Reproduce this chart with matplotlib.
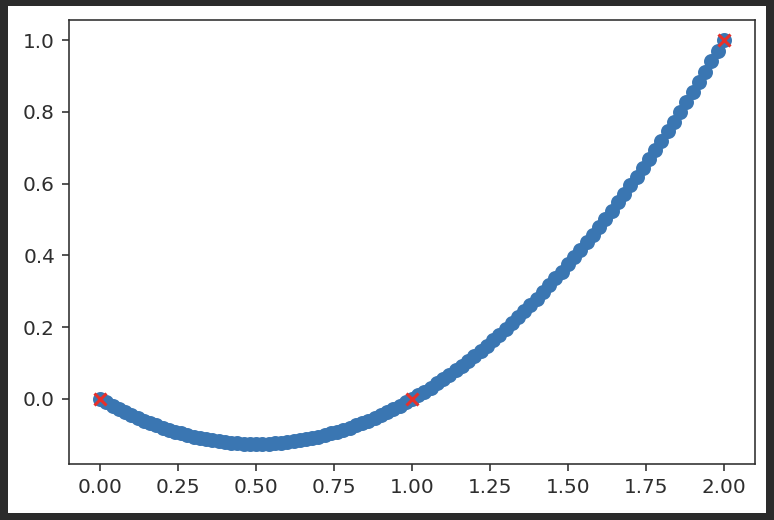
import matplotlib
matplotlib.use('agg')
import matplotlib.pyplot as plt
from matplotlib.patches import Rectangle

# known points (red crosses)
known_x = [0.0, 1.0, 2.0]
known_y = [0.0, 0.0, 1.0]

# curve samples
curve_x = [
    0.00, 0.02, 0.04, 0.06, 0.08, 0.10, 0.12, 0.14, 0.16, 0.18,
    0.20, 0.22, 0.24, 0.26, 0.28, 0.30, 0.32, 0.34, 0.36, 0.38,
    0.40, 0.42, 0.44, 0.46, 0.48, 0.50, 0.52, 0.54, 0.56, 0.58,
    0.60, 0.62, 0.64, 0.66, 0.68, 0.70, 0.72, 0.74, 0.76, 0.78,
    0.80, 0.82, 0.84, 0.86, 0.88, 0.90, 0.92, 0.94, 0.96, 0.98,
    1.00, 1.02, 1.04, 1.06, 1.08, 1.10, 1.12, 1.14, 1.16, 1.18,
    1.20, 1.22, 1.24, 1.26, 1.28, 1.30, 1.32, 1.34, 1.36, 1.38,
    1.40, 1.42, 1.44, 1.46, 1.48, 1.50, 1.52, 1.54, 1.56, 1.58,
    1.60, 1.62, 1.64, 1.66, 1.68, 1.70, 1.72, 1.74, 1.76, 1.78,
    1.80, 1.82, 1.84, 1.86, 1.88, 1.90, 1.92, 1.94, 1.96, 1.98,
    2.00,
]
curve_y = [
    0.0, -0.0098, -0.0192, -0.0282, -0.0368, -0.045, -0.0528, -0.0602, -0.0672, -0.0738,
    -0.08, -0.0858, -0.0912, -0.0962, -0.1008, -0.105, -0.1088, -0.1122, -0.1152, -0.1178,
    -0.12, -0.1218, -0.1232, -0.1242, -0.1248, -0.125, -0.1248, -0.1242, -0.1232, -0.1218,
    -0.12, -0.1178, -0.1152, -0.1122, -0.1088, -0.105, -0.1008, -0.0962, -0.0912, -0.0858,
    -0.08, -0.0738, -0.0672, -0.0602, -0.0528, -0.045, -0.0368, -0.0282, -0.0192, -0.0098,
    0.0, 0.0102, 0.0208, 0.0318, 0.0432, 0.055, 0.0672, 0.0798, 0.0928, 0.1062,
    0.12, 0.1342, 0.1488, 0.1638, 0.1792, 0.195, 0.2112, 0.2278, 0.2448, 0.2622,
    0.28, 0.2982, 0.3168, 0.3358, 0.3552, 0.375, 0.3952, 0.4158, 0.4368, 0.4582,
    0.48, 0.5022, 0.5248, 0.5478, 0.5712, 0.595, 0.6192, 0.6438, 0.6688, 0.6942,
    0.72, 0.7462, 0.7728, 0.7998, 0.8272, 0.855, 0.8832, 0.9118, 0.9408, 0.9702,
    1.0,
]

W, H = 774, 520
ink = '#2e2e2e'
plt.rcParams['xtick.color'] = ink
plt.rcParams['ytick.color'] = ink
plt.rcParams['axes.edgecolor'] = ink

fig = plt.figure(figsize=(W / 144, H / 144), dpi=144, facecolor='#2b2b2b')

# white canvas inside the dark frame
fig.patches.append(Rectangle((8 / W, 7 / H), 758 / W, 507 / H,
                             transform=fig.transFigure, facecolor='white',
                             edgecolor='none', zorder=-1))

ax = fig.add_axes([69 / W, (H - 464) / H, 686 / W, 444 / H])
ax.set_zorder(1)
ax.scatter(curve_x, curve_y, s=42, color='#3a76b2')
ax.scatter(known_x, known_y, marker='x', color='#e8302a')

ax.set_xticks([0.0, 0.25, 0.5, 0.75, 1.0, 1.25, 1.5, 1.75, 2.0])
ax.set_yticks([0.0, 0.2, 0.4, 0.6, 0.8, 1.0])

fig.savefig('out.png', dpi=144, facecolor=fig.get_facecolor())
